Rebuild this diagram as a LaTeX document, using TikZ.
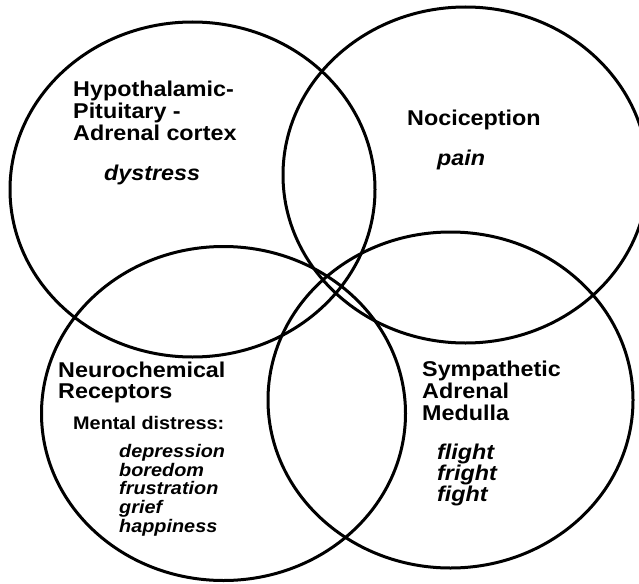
\documentclass[tikz,border=0pt]{standalone}
\usepackage{fontspec}
\setmainfont{Liberation Sans}[FakeStretch=1.09]
\begin{document}
\begin{tikzpicture}[x=1pt,y=-1pt,
  ring/.style={line width=3pt},
  big/.style={font=\fontsize{21.4}{22}\selectfont\bfseries, anchor=base west, inner sep=0pt},
  bigit/.style={font=\fontsize{21.4}{22}\selectfont\bfseries\itshape, anchor=base west, inner sep=0pt},
  small/.style={font=\fontsize{18.2}{19}\selectfont\bfseries, anchor=base west, inner sep=0pt},
  smallit/.style={font=\fontsize{18.2}{19}\selectfont\bfseries\itshape, anchor=base west, inner sep=0pt}]
\useasboundingbox (0,0) rectangle (639,583);
\clip (0,0) rectangle (639,583);
% ellipses
\draw[ring] (192.5,189.5) ellipse [x radius=182.5pt, y radius=167.5pt];
\draw[ring] (465.5,175) ellipse [x radius=182.5pt, y radius=168pt];
\draw[ring] (223.5,413.5) ellipse [x radius=182pt, y radius=167pt];
\draw[ring] (450.5,400) ellipse [x radius=182.5pt, y radius=168pt];
% top left
\node[big] (h1) at (73,97) {Hypothalamic-};
\node[big] (h2) at (73,118) {Pituitary -};
\node[big] (h3) at (73,140) {Adrenal cortex};
\node[bigit] (h4) at (104,180) {dystress};
% top right
\node[big] (n1) at (407,125) {Nociception};
\node[bigit] (n2) at (437,165) {pain};
% bottom left
\node[big] (r1) at (58,377) {Neurochemical};
\node[big] (r2) at (58,398) {Receptors};
\node[small] (r3) at (73,429) {Mental distress:};
\node[smallit] (r4) at (119,457) {depression};
\node[smallit] (r5) at (119,476) {boredom};
\node[smallit] (r6) at (119,494) {frustration};
\node[smallit] (r7) at (119,513) {grief};
\node[smallit] (r8) at (119,532) {happiness};
% bottom right
\node[big] (s1) at (422,376) {Sympathetic};
\node[big] (s2) at (422,398) {Adrenal};
\node[big] (s3) at (422,420) {Medulla};
\node[bigit] (s4) at (437,459) {flight};
\node[bigit] (s5) at (437,480) {fright};
\node[bigit] (s6) at (437,501) {fight};
\end{tikzpicture}
\end{document}
